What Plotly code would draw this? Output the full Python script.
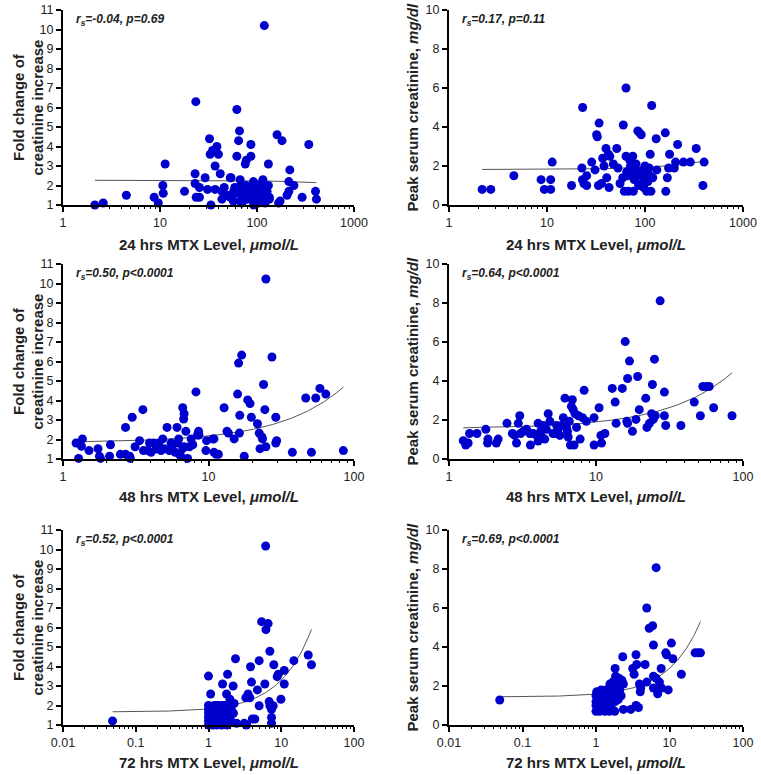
import numpy as np
import plotly.graph_objects as go

# ---------------- data ----------------
# Panel A: 24 h MTX level vs fold change of creatinine increase
mtx24_fold_x = [2.13, 2.6, 4.5, 8.7, 9.6, 10.7, 10.8, 11.3, 17.9, 23, 23.4, 23, 23.6, 25.5, 25.5, 29.2, 30.9,
                32.4, 32.9, 33.5, 34.8, 37, 38.6, 40, 37, 41.8, 43.5, 43.5, 45.9, 49, 53, 54, 57.4, 59, 60.8,
                62, 62, 64.6, 66, 67, 68, 67, 70, 70, 72, 75.7, 77.6, 77, 79, 81, 85, 86.5, 86.5, 88.6, 92, 96,
                98, 100, 103, 108, 112, 115, 119, 117, 121, 127, 131, 134, 131, 134, 161, 167, 173, 181, 213,
                218, 204, 213, 240, 292, 342, 401, 410, 53, 57, 92, 85, 117, 103]
mtx24_fold_y = [1.0, 1.1, 1.5, 1.4, 1.1, 2.0, 1.6, 3.1, 1.7, 2.6, 6.3, 2.1, 1.4, 1.4, 1.9, 2.4, 1.8,
                4.4, 3.6, 1.0, 3.8, 3.0, 4.0, 3.6, 1.8, 2.6, 1.3, 1.7, 1.9, 1.5, 2.4, 2.4, 1.7, 1.9, 1.6,
                3.5, 5.9, 4.3, 4.8, 2.3, 2.0, 1.2, 1.6, 1.1, 1.7, 3.1, 3.3, 2.0, 1.3, 1.4, 1.9, 3.5, 4.1, 1.3, 2.2, 1.6,
                1.9, 1.3, 1.1, 1.4, 2.1, 2.3, 10.2, 1.3, 1.1, 1.7, 2.0, 1.4, 3.1, 1.3, 4.6, 1.1, 1.2, 4.3, 2.2,
                2.8, 1.5, 1.7, 2.0, 1.4, 4.1, 1.7, 1.3, 1.4, 1.2, 1.0, 1.7, 1.7, 1.7]

# Panel B: 24 h MTX level vs peak serum creatinine
mtx24_scr_x = [2.18, 2.67, 4.59, 8.7, 9.4, 10.9, 10.9, 11.3, 17.8, 23.1, 22.7, 23, 23.8, 25.4, 25.4, 28.6, 30.9,
               32.1, 32.6, 33.5, 34, 36, 37, 38.2, 40, 40.7, 42.3, 43, 43.7, 47.5, 51.5, 53, 55.6, 59.3, 60,
               61.5, 64, 64, 65, 66, 67.7, 70, 71, 73, 75, 76, 77.5, 79, 81, 83, 84.5, 86, 88, 89.5, 91.5, 93,
               95, 97, 98, 100, 102, 104, 107, 110, 112, 113, 115, 117, 120, 130, 132, 161, 163, 169, 174, 178,
               199, 205, 215, 247, 290, 333, 390, 401]
mtx24_scr_y = [0.8, 0.8, 1.5, 1.3, 0.8, 1.3, 0.8, 2.2, 1.0, 5.0, 1.9, 1.3, 1.1, 1.5, 1.0, 2.2, 1.8,
               3.6, 3.5, 1.0, 4.2, 1.1, 2.4, 2.0, 2.9, 1.4, 2.6, 0.9, 2.5, 2.1, 2.9, 1.9, 1.1, 1.4, 4.1,
               0.7, 6.0, 2.5, 1.7, 1.5, 0.7, 2.3, 2.0, 1.7, 2.5, 0.7, 1.3, 1.8, 2.1, 1.5, 3.8, 1.0, 3.7, 1.6, 3.6, 1.1,
               1.8, 0.9, 1.3, 2.0, 1.6, 0.7, 1.2, 1.9, 1.5, 2.6, 0.7, 5.1, 1.4, 3.4, 1.8, 3.7, 0.7, 1.4, 1.9, 2.6,
               1.9, 2.2, 3.1, 2.2, 2.2, 2.9, 1.0, 2.2]

# Panel C: 48 h MTX level vs fold change of creatinine increase
mtx48_fold_x = [1.23, 1.28, 1.34, 1.36, 1.51, 1.74, 1.78, 1.81, 2.09, 2.12, 2.48, 2.69, 2.69, 2.87, 2.9, 2.99,
                3.13, 3.36, 3.54, 3.57, 3.83, 3.93, 4.03, 4.2, 4.37, 4.55, 4.72, 4.85, 4.98, 5.19, 5.38, 5.53,
                5.62, 5.9, 6.08, 6.15, 6.24, 6.3, 6.46, 6.65, 6.75, 6.8, 6.65, 6.8, 6.99, 7.18, 7.39, 7.6, 7.8,
                8.2, 8.4, 8.55, 8.6, 9.6, 9.7, 10.7, 10.9, 11.3, 11.7, 10.9, 12.8, 13.4, 13.7, 15, 15.85, 16.1,
                16.4, 16.3, 16.9, 17.6, 18.6, 19.3, 19.7, 21.7, 22.3, 23.3, 23.5, 22.6, 23.9, 24.4, 24.8, 24.8,
                27.3, 29, 29, 29.4, 37.7, 46.6, 51, 54.6, 58.3, 64, 84.5]
mtx48_fold_y = [1.82, 1.03, 1.65, 2.03, 1.43, 1.53, 1.14, 1.03, 1.14, 1.73, 1.24, 2.62, 1.24, 1.14, 1.03, 3.14,
                1.63, 1.94, 3.53, 1.43, 1.43, 1.82, 1.34, 1.82, 1.51, 1.82, 1.43, 2.03, 1.53, 2.62, 1.43, 1.82,
                1.51, 1.34, 2.62, 1.82, 2.03, 1.24, 1.14, 3.63, 3.05, 3.32, 1.53, 1.63, 2.42, 1.03, 1.63, 2.03, 1.73,
                4.44, 2.23, 2.42, 2.23, 1.43, 1.94, 2.03, 1.34, 1.24, 1.24, 2.03, 3.63, 2.42, 2.33, 2.03, 4.33, 5.92,
                3.24, 2.33, 6.33, 1.14, 4.03, 3.84, 3.14, 2.81, 2.33, 2.13, 2.03, 1.53, 4.82, 3.53, 10.23, 1.63,
                6.23, 3.14, 1.82, 1.94, 1.34, 4.13, 1.34, 4.13, 4.62, 4.33, 1.43]

# Panel D: 48 h MTX level vs peak serum creatinine
mtx48_scr_x = [1.25, 1.3, 1.35, 1.38, 1.55, 1.78, 1.83, 1.84, 2.1, 2.16, 2.48, 2.7, 2.8, 2.88, 2.96, 3.03, 3.07,
               3.2, 3.37, 3.55, 3.58, 3.74, 3.94, 4.04, 4.04, 4.2, 4.26, 4.37, 4.48, 4.6, 4.73, 4.86, 5.1, 5.25,
               5.4, 5.54, 5.68, 5.83, 5.99, 6.15, 6.3, 6.4, 6.47, 6.58, 6.7, 6.8, 6.9, 7.0, 7.1, 7.2, 7.37, 7.6,
               7.8, 8.1, 8.3, 8.6, 9.7, 9.7, 10.5, 10.8, 10.9, 11.5, 12.9, 13.5, 13.7, 15.1, 15.8, 16.2, 16.4,
               16.4, 16.9, 17.7, 18.7, 19.2, 19.7, 21.8, 22.2, 23.1, 23.9, 24.2, 24.5, 25, 25.3, 27.3, 29.2,
               29.2, 29.8, 37.8, 46.6, 51.3, 53.3, 56.3, 58.9, 63.1, 84.2]
mtx48_scr_y = [0.94, 0.72, 0.82, 1.31, 1.31, 1.52, 0.82, 1.02, 0.82, 1.02, 1.83, 1.31, 1.21, 0.82, 1.83, 2.22, 1.31,
               1.42, 1.52, 1.31, 0.72, 1.31, 1.21, 1.83, 0.92, 1.42, 1.13, 1.72, 1.02, 1.52, 2.32, 1.93, 1.31, 1.31,
               1.72, 1.52, 1.21, 1.72, 2.12, 3.12, 1.62, 1.42, 1.13, 1.93, 0.72, 2.7, 3.04, 2.53, 0.72, 2.32, 1.62, 2.22,
               1.02, 2.12, 3.52, 1.93, 2.12, 0.72, 2.63, 1.21, 0.82, 1.31, 3.62, 2.92, 1.83, 3.62, 6.02, 1.93, 4.13,
               1.83, 5.02, 1.42, 2.03, 4.23, 2.53, 3.12, 1.62, 1.83, 2.32, 3.82, 2.03, 5.12, 2.22, 8.11, 3.43,
               2.22, 1.72, 1.72, 2.92, 2.22, 3.72, 3.72, 3.72, 2.63, 2.22]

# Panel E: 72 h MTX level vs fold change of creatinine increase
mtx72_fold_x = [0.048, 1.0, 1.07, 1.56, 1.83, 1.77, 1.97, 2.18, 2.35, 2.43, 3.1, 3.34, 3.26, 3.5, 3.7, 3.78, 3.9,
                4.0, 4.33, 4.7, 4.97, 4.97, 5.37, 5.95, 6.1, 6.16, 6.6, 6.83, 6.98, 6.98, 7.35, 7.35, 7.35, 7.75,
                7.9, 8.8, 9.1, 9.9, 11, 11, 14.9, 23.5, 26,
                1.0, 1.0, 1.0, 1.0, 1.0, 1.0, 1.05, 1.08, 1.1, 1.12, 1.15, 1.18, 1.2, 1.22, 1.25, 1.28, 1.3, 1.33,
                1.36, 1.4, 1.42, 1.45, 1.5, 1.52, 1.55, 1.6, 1.65, 1.7, 1.75, 1.8, 1.85, 1.9, 1.95, 2.0, 2.05,
                2.1, 2.2, 2.25, 1.3, 1.5, 1.7]
mtx72_fold_y = [1.21, 3.51, 2.59, 3.1, 3.6, 2.59, 2.32, 3.0, 4.4, 1.09, 1.09, 1.0, 2.4, 2.59, 2.4, 3.99, 3.2,
                1.31, 1.31, 2.8, 4.3, 1.99, 6.3, 3.1, 10.18, 5.89, 6.2, 2.2, 4.78, 1.99, 1.8, 1.39, 1.09, 1.99,
                4.09, 3.48, 3.6, 2.32, 3.8, 3.1, 4.3, 4.59, 4.09,
                1.0, 1.2, 1.4, 1.6, 1.8, 2.0, 1.1, 1.5, 1.9, 1.3, 1.0, 1.7, 2.0, 1.2, 1.5, 1.8, 1.0, 1.4,
                2.0, 1.1, 1.6, 1.9, 1.3, 1.0, 1.7, 2.0, 1.5, 1.2, 1.8, 1.0, 1.6, 2.0, 1.4, 1.9, 1.2,
                1.7, 1.6, 2.1, 2.0, 2.0, 2.0]

# Panel F: 72 h MTX level vs peak serum creatinine
mtx72_scr_x = [0.049, 1.82, 2.31, 2.36, 2.97, 3.16, 3.3, 3.5, 3.58, 3.5, 3.78, 3.9, 4.0, 4.06, 4.65, 4.9, 4.9,
               5.3, 5.9, 6.05, 6.05, 6.05, 6.58, 6.58, 6.9, 7.3, 7.7, 7.8, 8.9, 9.1, 9.6, 10.6, 11.1, 14.5,
               22.3, 24.5, 26.4,
               1.0, 1.0, 1.0, 1.0, 1.02, 1.05, 1.08, 1.1, 1.12, 1.15, 1.18, 1.2, 1.22, 1.25, 1.28, 1.3, 1.32,
               1.35, 1.38, 1.4, 1.45, 1.5, 1.52, 1.55, 1.6, 1.62, 1.65, 1.7, 1.72, 1.75, 1.8, 1.82, 1.85, 1.9,
               1.95, 2.0, 2.0, 2.05, 2.1, 2.15, 2.2, 2.25, 1.13, 1.55, 1.7, 2.36]
mtx72_scr_y = [1.28, 2.9, 3.5, 0.8, 0.8, 2.9, 2.6, 3.6, 3.1, 1.0, 0.9, 2.1, 1.7, 1.9, 3.1, 6.0, 2.2,
               4.96, 5.09, 4.1, 2.5, 1.9, 8.07, 2.4, 1.6, 2.2, 2.9, 1.9, 3.7, 3.6, 1.8, 4.2, 3.4, 2.6,
               3.7, 3.7, 3.7,
               0.7, 1.0, 1.2, 1.5, 1.7, 0.9, 1.3, 1.6, 0.7, 1.1, 1.8, 1.4, 0.8, 1.7, 1.0, 1.5, 0.7,
               1.2, 1.8, 0.9, 1.6, 1.3, 0.7, 2.0, 1.1, 1.7, 0.8, 2.2, 1.4, 1.9, 0.7, 1.2, 2.5, 1.6,
               2.0, 1.3, 2.2, 2.4, 1.8, 2.1, 1.5, 2.3, 1.7, 2.1, 2.2, 2.1]

# linear fits (intercept, slope) and fitted x-span for each panel
fit_intercepts = [2.27, 1.82, 1.84, 1.557, 1.67, 1.44]
fit_slopes = [-0.0003, 0.00108, 0.0337, 0.034, 0.1626, 0.1464]
fit_x_min = [2.13, 2.18, 1.23, 1.25, 0.048, 0.049]
fit_x_max = [410, 401, 84.5, 84.2, 26, 26.4]

stats_labels = ["r<sub>s</sub>=-0.04, p=0.69", "r<sub>s</sub>=0.17, p=0.11",
                "r<sub>s</sub>=0.50, p<0.0001", "r<sub>s</sub>=0.64, p<0.0001",
                "r<sub>s</sub>=0.52, p<0.0001", "r<sub>s</sub>=0.69, p<0.0001"]
x_titles = ["24 hrs MTX Level, <i>μmol/L</i>", "24 hrs MTX Level, <i>μmol/L</i>",
            "48 hrs MTX Level, <i>μmol/L</i>", "48 hrs MTX Level, <i>μmol/L</i>",
            "72 hrs MTX Level, <i>μmol/L</i>", "72 hrs MTX Level, <i>μmol/L</i>"]
x_log_ranges = [[0, 3], [0, 3], [0, 2], [0, 2], [-2, 2], [-2, 2]]
fold_ticks = [1, 2, 3, 4, 5, 6, 7, 8, 9, 10, 11]
scr_ticks = [0, 2, 4, 6, 8, 10]

panels = [(mtx24_fold_x, mtx24_fold_y), (mtx24_scr_x, mtx24_scr_y),
          (mtx48_fold_x, mtx48_fold_y), (mtx48_scr_x, mtx48_scr_y),
          (mtx72_fold_x, mtx72_fold_y), (mtx72_scr_x, mtx72_scr_y)]

# ---------------- layout geometry (screen pixels) ----------------
W, H = 761, 775
col_px = [(63, 354), (449, 743)]
row_px = [(10, 205), (264, 459), (530, 725)]
xtitle_gap = [39, 38, 37]
FONT = "Liberation Sans, Arial, sans-serif"
BLUE = "#0000CD"
TXT = "#222222"


def px_x(s):
    return s / W


def px_y(s):
    return 1 - s / H


fig = go.Figure()
annotations = []
layout_axes = {}

for i, (xs, ys) in enumerate(panels):
    r, c = divmod(i, 2)
    n = i + 1
    xa = "x" if n == 1 else f"x{n}"
    ya = "y" if n == 1 else f"y{n}"
    fx = np.logspace(np.log10(fit_x_min[i]), np.log10(fit_x_max[i]), 200)
    fy = fit_intercepts[i] + fit_slopes[i] * fx
    fig.add_trace(go.Scatter(x=fx, y=fy, mode="lines", xaxis=xa, yaxis=ya,
                             line=dict(color="#555555", width=1), showlegend=False, hoverinfo="skip"))
    fig.add_trace(go.Scatter(x=xs, y=ys, mode="markers", xaxis=xa, yaxis=ya, cliponaxis=False,
                             marker=dict(color=BLUE, size=9, line=dict(width=0)), showlegend=False))

    x0, x1 = col_px[c]
    y0, y1 = row_px[r]
    xdom = [px_x(x0), px_x(x1)]
    ydom = [px_y(y1), px_y(y0)]
    axis_common = dict(showgrid=False, zeroline=False, automargin=False,
                       tickfont=dict(family=FONT, size=12.5, color=TXT))
    major = dict(showline=True, linecolor="black", linewidth=2, ticks="outside", ticklen=5,
                 tickwidth=1.5, tickcolor="black")
    layout_axes["xaxis" if n == 1 else f"xaxis{n}"] = dict(
        domain=xdom, anchor=ya, type="log", range=x_log_ranges[i],
        tickmode="linear", tick0=0, dtick=1, exponentformat="none", **major, **axis_common)
    # minor ticks (2..9 within each decade of the axis range) on an overlaid axis
    lo, hi = x_log_ranges[i]
    minor_vals = [m * 10.0 ** k for k in range(lo, hi) for m in range(2, 10)]
    mn = 6 + n
    layout_axes[f"xaxis{mn}"] = dict(
        domain=xdom, anchor=ya, overlaying=xa, type="log", range=x_log_ranges[i],
        tickmode="array", tickvals=minor_vals, showticklabels=False, showline=False,
        ticks="outside", ticklen=3, tickwidth=1, tickcolor="black", **axis_common)
    if c == 0:
        yextra = dict(range=[1, 11], tickvals=fold_ticks)
    else:
        yextra = dict(range=[0, 10], tickvals=scr_ticks)
    layout_axes["yaxis" if n == 1 else f"yaxis{n}"] = dict(domain=ydom, anchor=xa, **yextra, **major,
                                                           **axis_common)

    annotations.append(dict(text=f"<b><i>{stats_labels[i]}</i></b>", xref="paper", yref="paper",
                            x=px_x(x0 + 11), y=px_y(y0 + 10), xanchor="left", yanchor="middle",
                            showarrow=False, font=dict(family=FONT, size=12, color=TXT)))
    annotations.append(dict(text=f"<b>{x_titles[i]}</b>", xref="paper", yref="paper",
                            x=px_x((x0 + x1) / 2), y=px_y(y1 + xtitle_gap[r]),
                            xanchor="center", yanchor="middle", showarrow=False,
                            font=dict(family=FONT, size=15, color=TXT)))
    ymid = px_y((y0 + y1) / 2)
    if c == 0:
        annotations.append(dict(text="<b>Fold change of<br>creatinine increase</b>", xref="paper", yref="paper",
                                x=px_x(28), y=ymid, xanchor="center", yanchor="middle", textangle=-90,
                                showarrow=False, font=dict(family=FONT, size=15, color=TXT)))
    else:
        annotations.append(dict(text="<b>Peak serum creatinine, <i>mg/dl</i></b>", xref="paper", yref="paper",
                                x=px_x(412), y=ymid, xanchor="center", yanchor="middle", textangle=-90,
                                showarrow=False, font=dict(family=FONT, size=15, color=TXT)))

# invisible traces so the overlaid minor-tick axes are drawn
for n in range(1, 7):
    fig.add_trace(go.Scatter(x=[1], y=[None], mode="markers", xaxis=f"x{6 + n}",
                             yaxis="y" if n == 1 else f"y{n}", showlegend=False, hoverinfo="skip",
                             marker=dict(opacity=0)))

fig.update_layout(width=W, height=H, margin=dict(l=0, r=0, t=0, b=0, autoexpand=False),
                  paper_bgcolor="white", plot_bgcolor="white",
                  annotations=annotations, showlegend=False, **layout_axes)

fig.write_html("out.html", config={"displayModeBar": False},
               post_script="document.body.style.margin='0';document.body.style.padding='0';"
                           "document.documentElement.style.margin='0';")
